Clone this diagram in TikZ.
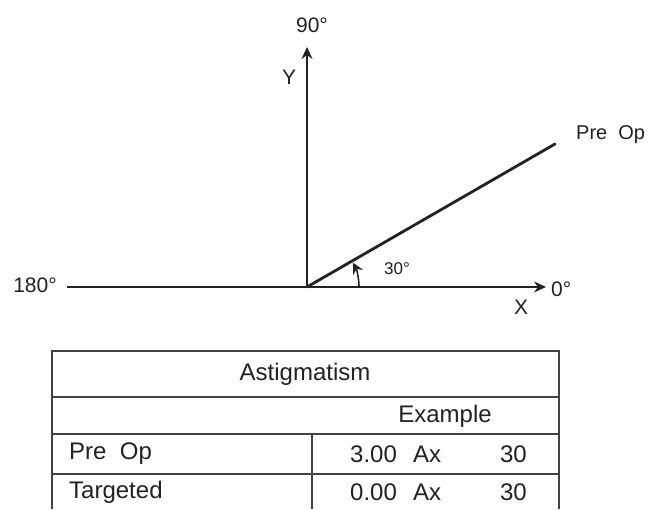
\documentclass[tikz,border=0pt]{standalone}
\usepackage{fontspec}
\setmainfont{Liberation Sans}
\usetikzlibrary{arrows.meta}
\definecolor{ink}{HTML}{222222}
\tikzset{
  axisline/.style={draw=ink, line width=1.5pt},
  axisarrow/.style={axisline, -{Stealth[length=12pt,width=11pt]}},
  preline/.style={draw=ink, line width=2.8pt},
  tabline/.style={draw=ink!85, line width=1.3pt},
  lbl/.style={text=ink, font=\fontsize{21}{24}\selectfont, inner sep=0pt},
  tbl/.style={text=ink, font=\fontsize{24}{28}\selectfont, inner sep=0pt},
}
\begin{document}
\begin{tikzpicture}[x=1pt,y=1pt]
\useasboundingbox[fill=white] (0,0) rectangle (648,509);
% axes
\coordinate (O) at (307,222);
\coordinate (ytip) at (307,462);
\coordinate (xleft) at (67,222);
\coordinate (xtip) at (546,222);
\coordinate (pend) at (555,365);
\coordinate (arcstart) at (359,222);
\draw[axisline] (xleft) -- (O);
\draw[axisarrow] (O) -- (xtip);
\draw[axisarrow] (O) -- (ytip);
\draw[preline, line cap=round] (O) -- (pend);
\draw[draw=ink, line width=1.6pt, -{Stealth[length=11pt,width=11pt]}] (arcstart) arc[start angle=0, end angle=28, radius=52pt];
\node[lbl] (n90) at (312,484) {90°};
\node[lbl] (ny) at (289,432) {Y};
\node[lbl, font=\fontsize{20}{24}\selectfont, anchor=west] (npre) at (576,374) {Pre~~Op};
\node[lbl] (n180) at (35,224) {180°};
\node[lbl, anchor=west] (n0) at (551,220) {0°};
\node[lbl] (nx) at (521,202) {X};
\node[lbl, font=\fontsize{17}{20}\selectfont] (n30) at (397,240) {30°};
% table
\coordinate (tl) at (52,158);
\coordinate (tr) at (559,158);
\coordinate (bl) at (52,0);
\coordinate (br) at (559,0);
\coordinate (r1l) at (52,112);
\coordinate (r1r) at (559,112);
\coordinate (r2l) at (52,75);
\coordinate (r2r) at (559,75);
\coordinate (r3l) at (52,35);
\coordinate (r3r) at (559,35);
\coordinate (dt) at (312,75);
\coordinate (db) at (312,0);
\draw[tabline] (bl) -- (tl) -- (tr) -- (br);
\draw[tabline] (r1l) -- (r1r);
\draw[tabline] (r2l) -- (r2r);
\draw[tabline] (r3l) -- (r3r);
\draw[tabline] (dt) -- (db);
\node[tbl] (tast) at (305,135) {Astigmatism};
\node[tbl] (tex) at (445,93) {Example};
\node[tbl, anchor=west] (tpre) at (69,55) {Pre~~Op};
\node[tbl, anchor=west] (ttar) at (69,17) {Targeted};
\node[tbl, anchor=west] (v1) at (350,55) {3.00};
\node[tbl, anchor=west] (a1) at (413,55) {Ax};
\node[tbl, anchor=east] (d1) at (527,55) {30};
\node[tbl, anchor=west] (v2) at (350,17) {0.00};
\node[tbl, anchor=west] (a2) at (413,17) {Ax};
\node[tbl, anchor=east] (d2) at (527,17) {30};
\end{tikzpicture}
\end{document}
